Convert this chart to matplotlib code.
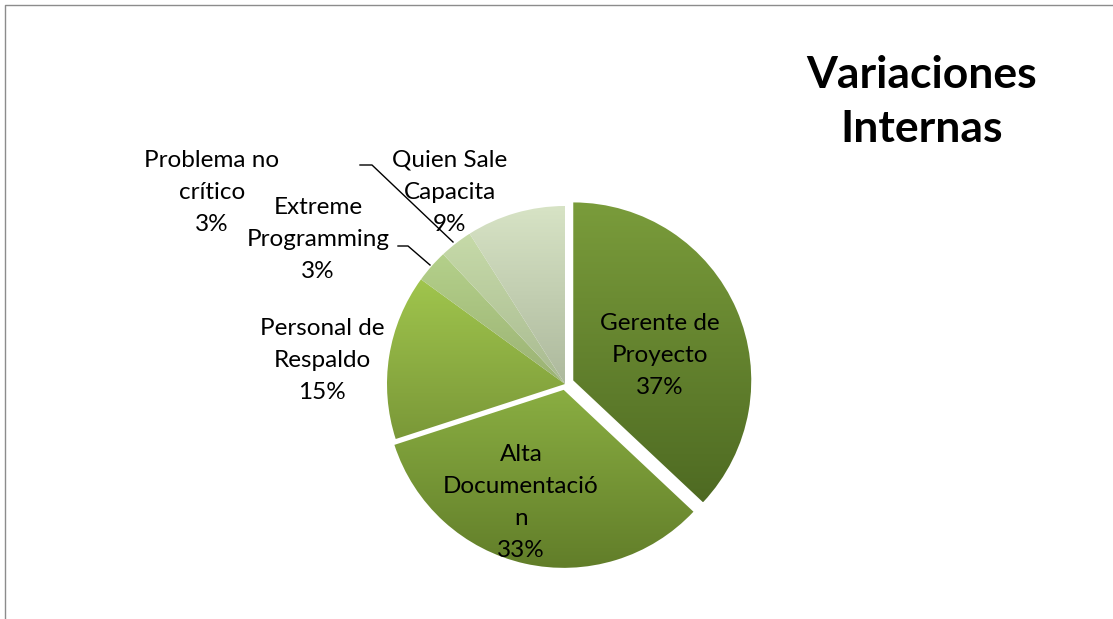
import numpy as np
import matplotlib
matplotlib.use("Agg")
import matplotlib.pyplot as plt
from matplotlib.colors import LinearSegmentedColormap
from matplotlib.lines import Line2D

# Slice data, clockwise from 12 o'clock
labels = ["Gerente de\nProyecto", "Alta\nDocumentació\nn", "Personal de\nRespaldo",
          "Extreme\nProgramming", "Problema no\ncrítico", "Quien Sale\nCapacita"]
values = [37, 33, 15, 3, 3, 9]

# top / bottom colours of the shaded fill
top_colors = ["#7a9c3b", "#8aae42", "#a0c54d", "#b4d08a", "#c6daa8", "#d7e3c5"]
bottom_colors = ["#4e6a22", "#617d29", "#7a9838", "#9bb274", "#a9ba92", "#adb99d"]

W, H = 1113, 619
fig = plt.figure(figsize=(W / 100, H / 100), dpi=100)
ax = fig.add_axes([0, 0, 1, 1])

# pie is laid out in pixel units, so explode offsets are in pixels too
cx, cy, r = 565, H - 384, 178
explode = [9, 6, 0, 0, 0, 0]
wedges, _ = ax.pie(values, explode=explode, startangle=90, counterclock=False,
                   center=(cx, cy), radius=r, frame=True,
                   wedgeprops=dict(linewidth=0))
ax.set_xlim(0, W)
ax.set_ylim(0, H)
ax.set_aspect("equal")
ax.axis("off")

grad = np.linspace(1, 0, 256).reshape(-1, 1)
for w, c0, c1 in zip(wedges, top_colors, bottom_colors):
    verts = w.get_path().vertices
    x0, x1 = verts[:, 0].min(), verts[:, 0].max()
    y0, y1 = verts[:, 1].min(), verts[:, 1].max()
    cmap = LinearSegmentedColormap.from_list("g", [c1, c0])
    w.set_facecolor("none")
    im = ax.imshow(grad, cmap=cmap, extent=(x0, x1, y0, y1), aspect="auto",
                   interpolation="bicubic", zorder=1)
    im.set_clip_path(w)

font = "Lato"
fs = 17.5
step = 32  # px between label lines

def label(x, y_top, name, val):
    lines = name.split("\n") + [f"{val}%"]
    for k, s in enumerate(lines):
        ax.text(x, H - (y_top + k * step) - 8, s, ha="center", va="baseline",
                fontsize=fs, family=font, color="black", zorder=3)

label(660, 322, labels[0], values[0])
label(521, 453, labels[1], values[1])
label(322, 327, labels[2], values[2])
label(318, 206, labels[3], values[3])
label(212, 159, labels[4], values[4])
label(450, 159, labels[5], values[5])

# leader lines
ax.plot([398, 408, 430], [H - 246, H - 246, H - 265], color="black", lw=1, zorder=3)
ax.plot([360, 372, 453], [H - 165, H - 165, H - 242], color="black", lw=1, zorder=3)

ax.text(922, H - 102, "Variaciones\nInternas", ha="center", va="center",
        fontsize=32, fontweight="bold", family=font, linespacing=1.45)

# chart-area border (top and left)
fig.add_artist(Line2D([5 / W, 5 / W, 1], [0, 1 - 5 / H, 1 - 5 / H],
                      transform=fig.transFigure, color="#8c8c8c", lw=1))

fig.savefig("out.png", dpi=100, facecolor="white")
